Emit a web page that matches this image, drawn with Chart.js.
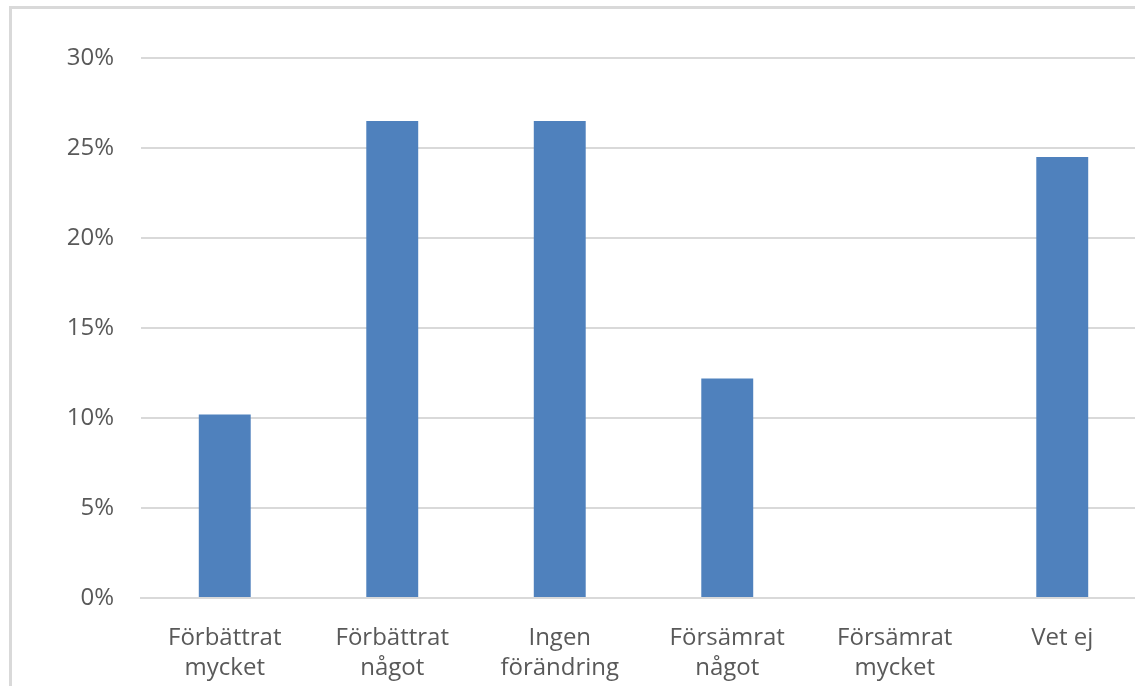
<!DOCTYPE html>
<html>
<head>
<meta charset="utf-8">
<script src="https://cdn.jsdelivr.net/npm/chart.js@4/dist/chart.umd.min.js"></script>
<style>
  html, body { margin: 0; padding: 0; background: #fff; overflow: hidden; }
  #frame { position: absolute; left: 9px; top: 6px; width: 1200px; height: 800px;
           border-left: 3px solid #d9d9d9; border-top: 3px solid #d9d9d9; }
  #wrap { position: absolute; left: 0; top: 0; width: 1150px; height: 686px; }
</style>
</head>
<body>
<div id="frame"></div>
<div id="wrap"><canvas id="chart"></canvas></div>
<script>
// survey answers, share of respondents
const categories = [
  ['Förbättrat', 'mycket'],
  ['Förbättrat', 'något'],
  ['Ingen', 'förändring'],
  ['Försämrat', 'något'],
  ['Försämrat', 'mycket'],
  ['Vet ej']
];
const shares = [0.102, 0.265, 0.265, 0.122, 0, 0.245];
const yTicks = [0, 0.05, 0.10, 0.15, 0.20, 0.25, 0.30];

const textColor = '#595959';
const gridColor = '#d9d9d9';

new Chart(document.getElementById('chart'), {
  type: 'bar',
  data: {
    labels: categories,
    datasets: [{
      data: shares,
      backgroundColor: '#4f81bd',
      categoryPercentage: 1,
      barPercentage: 0.31
    }]
  },
  options: {
    responsive: true,
    maintainAspectRatio: false,
    animation: false,
    layout: { padding: { top: 58, right: 4, left: 0, bottom: 0 } },
    plugins: { legend: { display: false }, tooltip: { enabled: false } },
    scales: {
      x: {
        grid: { display: false, drawTicks: false },
        border: { color: gridColor, width: 2 },
        ticks: {
          color: textColor,
          font: { family: 'Open Sans', size: 24, lineHeight: 1.25 },
          padding: 25,
          maxRotation: 0,
          autoSkip: false
        },
        afterFit: s => { s.height = 88; }
      },
      y: {
        min: 0,
        max: 0.3,
        afterBuildTicks: s => { s.ticks = yTicks.map(v => ({ value: v })); },
        grid: { color: gridColor, lineWidth: 2, drawTicks: false },
        border: { display: false },
        ticks: {
          color: textColor,
          font: { family: 'Open Sans', size: 24 },
          padding: 27,
          callback: v => Math.round(v * 100) + '%'
        },
        afterFit: s => { s.width = 141; }
      }
    }
  }
});
</script>
</body>
</html>
